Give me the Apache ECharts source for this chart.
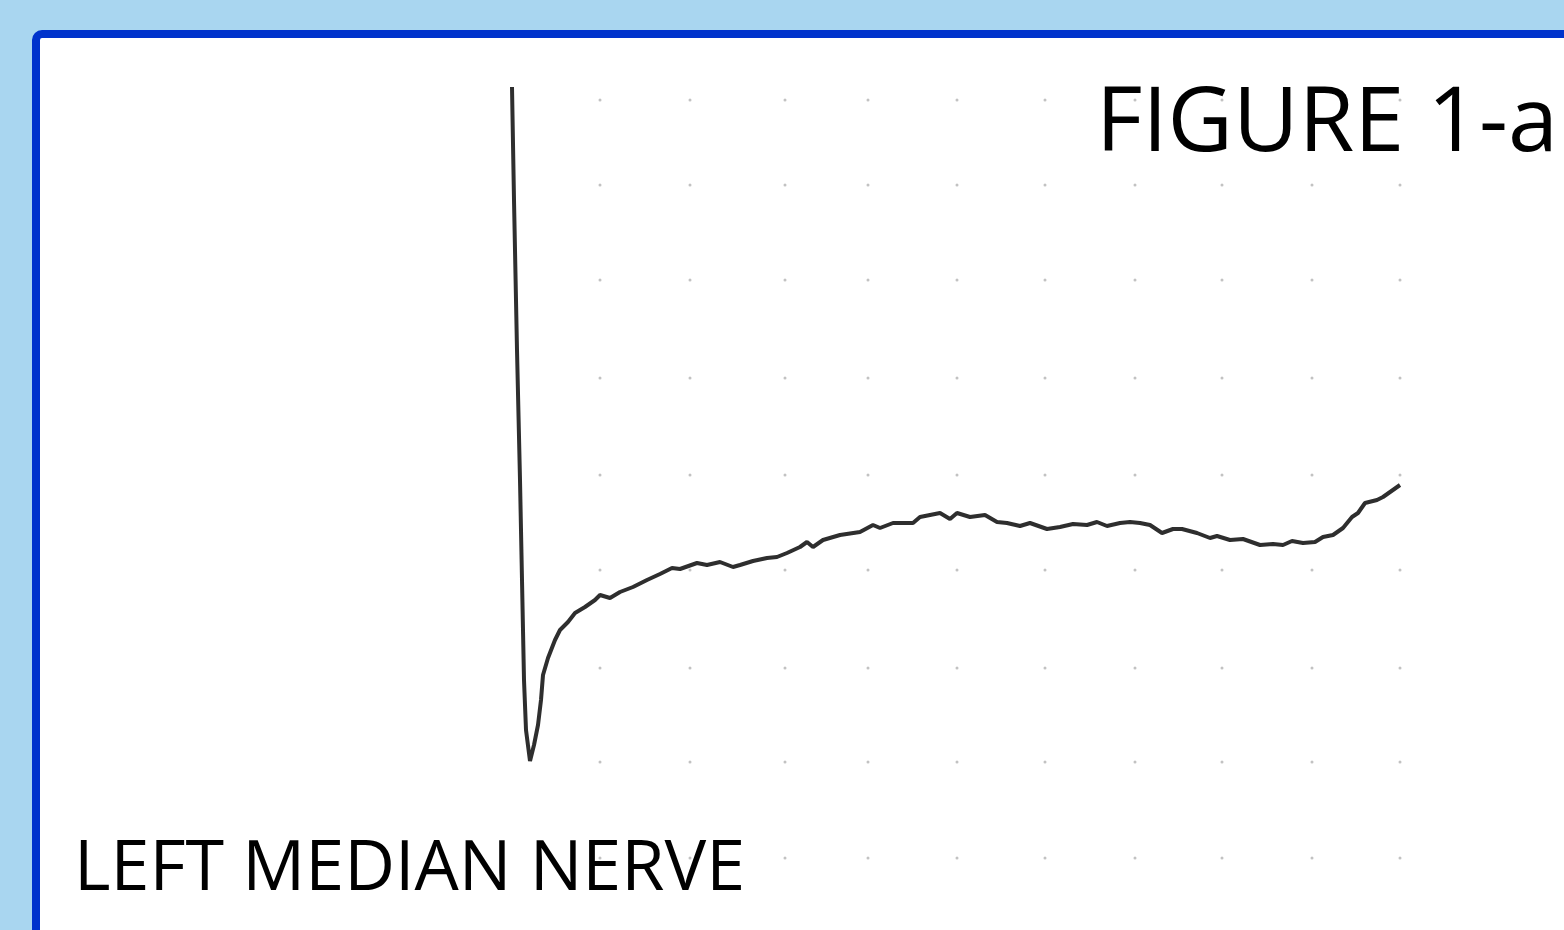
<!DOCTYPE html>
<html>
<head>
<meta charset="utf-8">
<script src="https://cdn.jsdelivr.net/npm/echarts@6/dist/echarts.min.js"></script>
<style>
  html, body { margin: 0; padding: 0; background: #a9d6f0; }
  #main { width: 1564px; height: 930px; }
</style>
</head>
<body>
<div id="main"></div>
<script>
// trace: x in 0.1 px-units from the grid's left edge, y upward
const traceX = [1.2, 1.4, 1.7, 2.0, 2.2, 2.4, 2.6, 3.0, 3.4, 3.8, 4.1, 4.3, 4.8, 5.5, 6.0, 6.8, 7.5, 8.5, 9.5,
  10.0, 11.0, 12.0, 13.3, 14.7, 16.0, 17.2, 18.0, 19.7, 20.7, 22.0, 23.3, 24.0, 25.3, 26.7, 27.7, 28.7,
  30.0, 30.7, 31.3, 32.3, 34.0, 36.0, 37.3, 38.0, 39.3, 41.3, 42.0, 44.0, 45.0, 45.7, 47.0, 48.5, 49.7,
  50.7, 52.0, 53.0, 54.7, 56.0, 57.3, 58.7, 59.7, 60.7, 62.0, 63.0, 64.0, 65.0, 66.2, 67.3, 68.2, 69.7,
  71.0, 71.7, 73.0, 74.3, 76.0, 77.3, 78.3, 79.2, 80.3, 81.5, 82.3, 83.3, 84.3, 85.2, 85.8, 86.5, 87.7,
  88.3, 90.0];
const traceY = [77.3, 66.0, 51.0, 38.0, 28.0, 18.0, 13.0, 9.9, 11.5, 13.5, 16.0, 18.5, 20.2, 22.0, 23.0,
  23.8, 24.7, 25.3, 26.0, 26.5, 26.2, 26.8, 27.3, 28.0, 28.6, 29.2, 29.1, 29.7, 29.5, 29.8, 29.3, 29.5,
  29.9, 30.2, 30.3, 30.7, 31.3, 31.8, 31.3, 32.0, 32.5, 32.8, 33.5, 33.2, 33.7, 33.7, 34.3, 34.7, 34.1,
  34.7, 34.3, 34.5, 33.8, 33.7, 33.4, 33.7, 33.1, 33.3, 33.6, 33.5, 33.8, 33.4, 33.7, 33.8, 33.7, 33.5,
  32.7, 33.1, 33.1, 32.7, 32.2, 32.4, 32.0, 32.1, 31.5, 31.6, 31.5, 31.9, 31.7, 31.8, 32.3, 32.5, 33.2,
  34.3, 34.7, 35.7, 36.0, 36.3, 37.5];

// faint grid of the recording paper
const gridX = [10, 19, 28.5, 36.8, 45.7, 54.5, 63.5, 72.2, 81.2, 90];
const gridY = [0.2, 9.8, 19.2, 29, 38.5, 48.2, 58, 67.5, 76];

const figureTitle = 'FIGURE 1-a';
const nerveLabel = 'LEFT MEDIAN NERVE';

const trace = traceX.map((x, i) => [x, traceY[i]]);
const dots = [];
gridX.forEach(x => gridY.forEach(y => dots.push([x, y])));

const chart = echarts.init(document.getElementById('main'));
chart.setOption({
  backgroundColor: '#a9d6f0',
  animation: false,
  grid: { left: 500, top: 60, width: 1000, height: 800 },
  xAxis: { type: 'value', min: 0, max: 100, show: false },
  yAxis: { type: 'value', min: 0, max: 80, show: false },
  graphic: [
    {
      type: 'rect', z: -10, silent: true,
      shape: { x: 36, y: 34, width: 1600, height: 1000, r: 6 },
      style: { fill: '#ffffff', stroke: '#0033cc', lineWidth: 8 }
    },
    {
      type: 'text', z: 100, left: 1096, top: 80,
      style: { text: figureTitle, fill: '#000', font: '90px "Open Sans", sans-serif' }
    },
    {
      type: 'text', z: 100, left: 74, top: 835,
      style: { text: nerveLabel, fill: '#000', font: '70px "Open Sans", sans-serif' }
    }
  ],
  series: [
    {
      type: 'scatter',
      data: dots,
      symbolSize: 3,
      itemStyle: { color: '#9a9a9a', opacity: 0.6 },
      silent: true
    },
    {
      type: 'line',
      data: trace,
      showSymbol: false,
      lineStyle: { color: '#2e2e2e', width: 4 },
      z: 5
    }
  ]
});
</script>
</body>
</html>
